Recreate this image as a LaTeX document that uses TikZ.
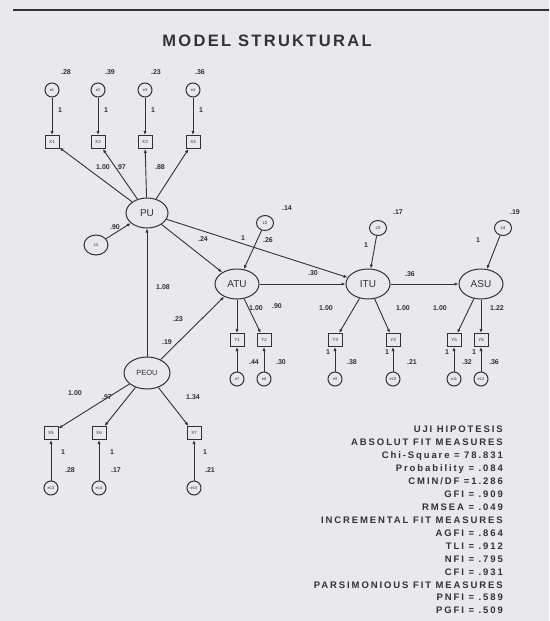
\documentclass[tikz,border=0pt]{standalone}
\usepackage{fontspec}
\setmainfont{Liberation Sans}
\newfontfamily\titlefont[LetterSpace=14]{Liberation Sans}
\newfontfamily\fitfont[LetterSpace=20]{Liberation Sans}
\usetikzlibrary{shapes.geometric,arrows.meta}
\definecolor{paper}{RGB}{233,233,237}
\definecolor{ink}{RGB}{50,50,54}
\begin{document}
\begin{tikzpicture}[x=1pt,y=-1pt,
  lat/.style={ellipse, draw=ink, line width=1, minimum width=44, minimum height=30, inner sep=0, text=ink, font=\fontsize{10}{10}\selectfont},
  err/.style={circle, draw=ink, line width=1, minimum size=14, inner sep=0, text=ink, font=\fontsize{4}{4}\selectfont},
  dist/.style={ellipse, draw=ink, line width=1, minimum width=17, minimum height=15, inner sep=0, text=ink, font=\fontsize{4.5}{4.5}\selectfont},
  obs/.style={rectangle, draw=ink, line width=1, minimum width=14, minimum height=13, inner sep=0, text=ink, font=\fontsize{4.5}{4.5}\selectfont},
  lbl/.style={inner sep=0, text=ink, font=\fontsize{7}{7}\selectfont\bfseries},
  arr/.style={draw=ink, line width=0.9, -{Latex[length=4,width=3.2]}}]
\useasboundingbox (0,0) rectangle (549,621);
\fill[paper] (0,0) rectangle (549,621);
\draw[ink, line width=1.6] (13,10) -- (549,10);
\node[text=ink, inner sep=0, font=\titlefont\bfseries\fontsize{16.5}{16.5}\selectfont] (title) at (267,41) {MODEL STRUKTURAL};

% latent variables
\node[lat, minimum width=42] (PU) at (147,213) {PU};
\node[lat] (ATU) at (237,284) {ATU};
\node[lat] (ITU) at (368,284) {ITU};
\node[lat] (ASU) at (481,284) {ASU};
\node[lat, minimum width=46, minimum height=32, font=\fontsize{7.5}{7.5}\selectfont] (PEOU) at (147,373) {PEOU};

% disturbances
\node[dist, minimum width=24, minimum height=20] (z1) at (96,245) {z1};
\node[dist] (z2) at (265,223) {z2};
\node[dist] (z3) at (378,228) {z3};
\node[dist] (z4) at (503,228) {z4};

% PU indicators
\foreach \i/\x in {1/52,2/98,3/145,4/193}{
  \node[obs] (X\i) at (\x,142) {X\i};
  \node[err] (e\i) at (\x,90) {e\i};
  \draw[arr] (e\i) -- (X\i);
  \draw[arr] (PU) -- (X\i);
}
% ATU, ITU, ASU indicators
\node[obs] (Y1) at (237,340) {Y1};
\node[obs] (Y2) at (264,340) {Y2};
\node[obs] (Y3) at (335,340) {Y3};
\node[obs] (Y4) at (393,340) {Y4};
\node[obs] (Y5) at (454,340) {Y5};
\node[obs] (Y6) at (481,340) {Y6};
\node[err] (e7) at (237,379) {e7};
\node[err] (e8) at (264,379) {e8};
\node[err] (e9) at (335,379) {e9};
\node[err] (e10) at (393,379) {e10};
\node[err] (e11) at (454,379) {e11};
\node[err] (e12) at (481,379) {e12};
\foreach \y/\e/\l in {Y1/e7/ATU,Y2/e8/ATU,Y3/e9/ITU,Y4/e10/ITU,Y5/e11/ASU,Y6/e12/ASU}{
  \draw[arr] (\l) -- (\y);
  \draw[arr] (\e) -- (\y);
}
% PEOU indicators
\node[obs] (X5) at (51,433) {X5};
\node[obs] (X6) at (99,433) {X6};
\node[obs] (X7) at (194,433) {X7};
\node[err] (e13) at (51,488) {e13};
\node[err] (e14) at (99,488) {e14};
\node[err] (e15) at (194,488) {e15};
\foreach \x/\e in {X5/e13,X6/e14,X7/e15}{
  \draw[arr] (PEOU) -- (\x);
  \draw[arr] (\e) -- (\x);
}

% structural paths
\draw[arr] (z1) -- (PU);
\draw[arr] (z2) -- (ATU);
\draw[arr] (z3) -- (ITU);
\draw[arr] (z4) -- (ASU);
\draw[arr] (PU) -- (ATU);
\draw[arr] (PU) -- (ITU);
\draw[arr] (ATU) -- (ITU);
\draw[arr] (ITU) -- (ASU);
\draw[arr] (PEOU) -- (PU);
\draw[arr] (PEOU) -- (ATU);

% labels top
\node[lbl] (v1) at (66,72) {.28};
\node[lbl] (v2) at (110,72) {.39};
\node[lbl] (v3) at (156,72) {.23};
\node[lbl] (v4) at (200,72) {.36};
\node[lbl] (o1) at (60,110) {1};
\node[lbl] (o2) at (106,110) {1};
\node[lbl] (o3) at (153,110) {1};
\node[lbl] (o4) at (201,110) {1};
\node[lbl] (l1) at (103,167) {1.00};
\node[lbl] (l2) at (121,167) {.97};
\node[lbl] (l4) at (160,167) {.88};
\node[lbl] (vz1) at (115,227) {.90};
% structural labels
\node[lbl] (b1) at (203,239) {.24};
\node[lbl] (o5) at (243,238) {1};
\node[lbl] (b2) at (268,240) {.26};
\node[lbl] (vz2) at (287,208) {.14};
\node[lbl] (b3) at (313,273) {.30};
\node[lbl] (vz3) at (398,212) {.17};
\node[lbl] (o6) at (366,245) {1};
\node[lbl] (b4) at (410,274) {.36};
\node[lbl] (vz4) at (515,212) {.19};
\node[lbl] (o7) at (478,240) {1};
\node[lbl] (b5) at (163,287) {1.08};
\node[lbl] (b6) at (178,319) {.23};
\node[lbl] (vpe) at (167,342) {.19};
% endogenous loadings
\node[lbl] (l5) at (256,308) {1.00};
\node[lbl] (l6) at (277,306) {.90};
\node[lbl] (l7) at (326,308) {1.00};
\node[lbl] (l8) at (403,308) {1.00};
\node[lbl] (l9) at (440,308) {1.00};
\node[lbl] (l10) at (497,308) {1.22};
\node[lbl] (v7) at (254,362) {.44};
\node[lbl] (v8) at (281,362) {.30};
\node[lbl] (v9) at (352,362) {.38};
\node[lbl] (v10) at (412,362) {.21};
\node[lbl] (v11) at (467,362) {.32};
\node[lbl] (v12) at (494,362) {.36};
\node[lbl] (o9) at (328,352) {1};
\node[lbl] (o10) at (387,352) {1};
\node[lbl] (o11) at (447,352) {1};
\node[lbl] (o12) at (474,352) {1};
% PEOU labels
\node[lbl] (l11) at (75,393) {1.00};
\node[lbl] (l12) at (107,397) {.97};
\node[lbl] (l13) at (193,397) {1.34};
\node[lbl] (o13) at (63,452) {1};
\node[lbl] (o14) at (112,452) {1};
\node[lbl] (o15) at (205,452) {1};
\node[lbl] (v13) at (70,470) {.28};
\node[lbl] (v14) at (116,470) {.17};
\node[lbl] (v15) at (210,470) {.21};

% fit measures
\node[anchor=north east, align=right, inner sep=0, text=ink,
  font=\fitfont\bfseries\fontsize{9.5}{12.93}\selectfont] (fit) at (503,426) {%
UJI HIPOTESIS\\
ABSOLUT FIT MEASURES\\
Chi-Square = 78.831\\
Probability = .084\\
CMIN/DF =1.286\\
GFI = .909\\
RMSEA = .049\\
INCREMENTAL FIT MEASURES\\
AGFI = .864\\
TLI = .912\\
NFI = .795\\
CFI = .931\\
PARSIMONIOUS FIT MEASURES\\
PNFI = .589\\
PGFI = .509};
\end{tikzpicture}
\end{document}
